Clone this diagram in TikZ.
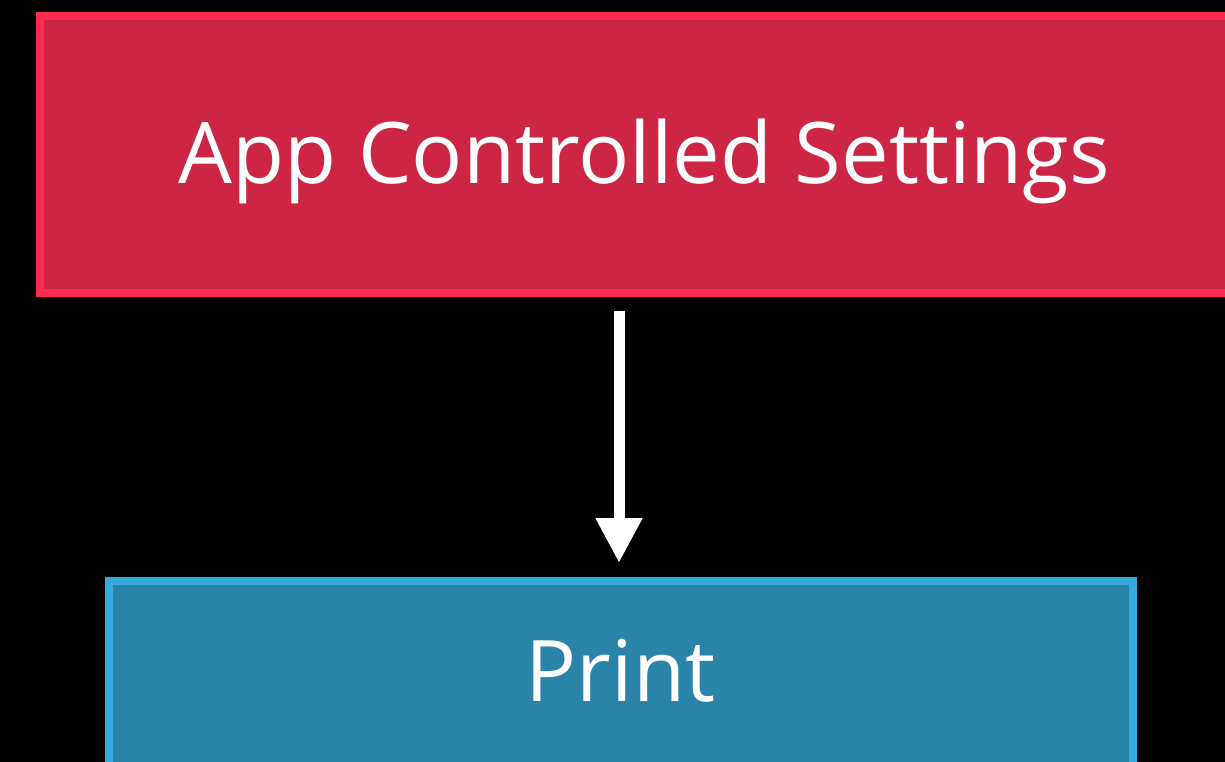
\documentclass[tikz,border=0pt]{standalone}
\usepackage{fontspec}
\setmainfont{Open Sans}
\usetikzlibrary{arrows.meta}
\definecolor{redfill}{HTML}{CC2644}
\definecolor{redline}{HTML}{FF2A50}
\definecolor{bluefill}{HTML}{2A83A8}
\definecolor{blueline}{HTML}{36A9E0}
\tikzset{
  box/.style={rectangle, line width=8pt, inner sep=0pt, anchor=north west},
  lbl/.style={text=white, font=\fontsize{85}{95}\selectfont, anchor=base, inner sep=0pt},
  flow/.style={draw=white, line width=11pt, -{Triangle[width=44pt,length=45pt]}}
}
\begin{document}
\begin{tikzpicture}[x=1pt,y=-1pt]
\fill[black] (0,0) rectangle (1225,762);
\useasboundingbox (0,0) rectangle (1225,762);
\begin{scope}
\clip (0,0) rectangle (1225,762);
\node[box, draw=redline, fill=redfill, minimum width=1210pt, minimum height=277pt] (app) at (36,12) {};
\node[box, draw=blueline, fill=bluefill, minimum width=1024pt, minimum height=250pt] (print) at (105,577) {};
\end{scope}
\node[lbl] (apptext) at (644,183) {App Controlled Settings};
\node[lbl] (printtext) at (620.5,701) {Print};
\coordinate (start) at (619,311);
\coordinate (tip) at (619,563);
\draw[flow] (start) -- (tip);
\end{tikzpicture}
\end{document}
